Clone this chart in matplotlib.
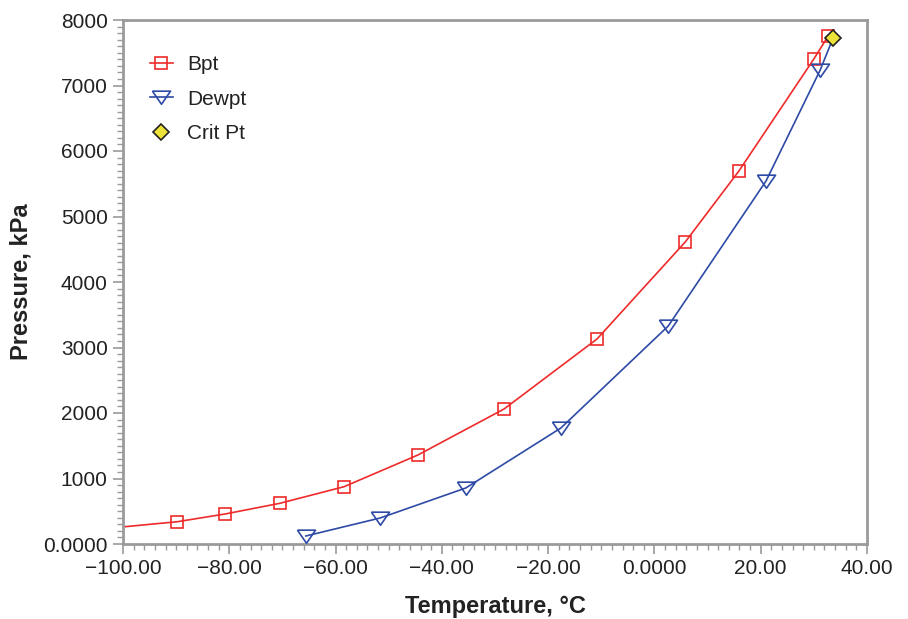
import matplotlib
matplotlib.use("Agg")
import matplotlib.pyplot as plt
from matplotlib.ticker import MultipleLocator, FixedLocator, FixedFormatter

plt.rcParams['font.family'] = ['Liberation Sans', 'DejaVu Sans']

# Bubble point curve (line extends beyond left axis limit)
bpt_line_T = [-106.0, -89.8, -80.8, -70.5, -58.4, -44.5, -28.3, -10.8, 5.8, 15.9, 30.0, 32.7]
bpt_line_P = [215, 340, 458, 621, 875, 1359, 2061, 3130, 4611, 5695, 7405, 7756]
bpt_T = [-89.8, -80.8, -70.5, -58.4, -44.5, -28.3, -10.8, 5.8, 15.9, 30.0, 32.7]
bpt_P = [340, 458, 621, 875, 1359, 2061, 3130, 4611, 5695, 7405, 7756]

dew_T = [-65.6, -51.6, -35.5, -17.6, 2.6, 21.0, 31.2]
dew_P = [122, 397, 855, 1771, 3328, 5542, 7237]

crit_T = [33.6]
crit_P = [7722]

xticks = [-100, -80, -60, -40, -20, 0, 20, 40]
xlabels = ["\u2212100.00", "\u221280.00", "\u221260.00", "\u221240.00", "\u221220.00", "0.0000", "20.00", "40.00"]
yticks = [0, 1000, 2000, 3000, 4000, 5000, 6000, 7000, 8000]
ylabels = ["0.0000", "1000", "2000", "3000", "4000", "5000", "6000", "7000", "8000"]

red = "#ee2a2a"
blue = "#2d4aa6"
tri = [(-1.0, 0.7), (1.0, 0.7), (0.0, -0.75), (-1.0, 0.7)]

fig = plt.figure(figsize=(9.08, 6.19), dpi=100)
ax = fig.add_axes([123/908, 1-544/619, (867-123)/908, (544-20)/619])

ax.plot(bpt_line_T, bpt_line_P, color=red, lw=1.2, zorder=2)
ax.plot(bpt_T, bpt_P, ls='none', marker='s', ms=8.5, mfc='none', mec=red, mew=1.2, zorder=3)
ax.plot(dew_T + crit_T, dew_P + crit_P, color=blue, lw=1.2, zorder=2)
ax.plot(dew_T, dew_P, ls='none', marker=tri, ms=13, mfc='none', mec=blue, mew=1.2, zorder=3)
ax.plot(crit_T, crit_P, ls='none', marker='D', ms=8, mfc='#ece33a', mec='#222222', mew=1.2, zorder=4)

# legend proxies
h1, = ax.plot([], [], color=red, lw=1.2, marker='s', ms=8.5, mfc='none', mec=red, mew=1.2)
h2, = ax.plot([], [], color=blue, lw=1.2, marker=tri, ms=13, mfc='none', mec=blue, mew=1.2)
h3, = ax.plot([], [], ls='none', marker='D', ms=8, mfc='#ece33a', mec='#222222', mew=1.2)
leg = ax.legend([h1, h2, h3], ["Bpt", "Dewpt", "Crit Pt"], loc='upper left',
                bbox_to_anchor=(0.011, 0.969), frameon=False, fontsize=15,
                handlelength=1.1, handletextpad=0.7, labelspacing=0.75)
for t in leg.get_texts():
    t.set_color('#222222')

ax.set_xlim(-100, 40)
ax.set_ylim(0, 8000)
ax.xaxis.set_major_locator(FixedLocator(xticks))
ax.xaxis.set_major_formatter(FixedFormatter(xlabels))
ax.yaxis.set_major_locator(FixedLocator(yticks))
ax.yaxis.set_major_formatter(FixedFormatter(ylabels))
ax.xaxis.set_minor_locator(MultipleLocator(2))
ax.yaxis.set_minor_locator(MultipleLocator(100))

gray = "#9a9a9a"
for s in ax.spines.values():
    s.set_color(gray)
    s.set_linewidth(2)
ax.tick_params(which='major', direction='out', length=7, width=1.2, color=gray,
               labelsize=15, labelcolor='#222222', pad=4)
ax.tick_params(which='minor', direction='out', length=4, width=1.0, color=gray)

ax.set_xlabel("Temperature, \u00b0C", fontsize=17, fontweight='bold', color='#222222', labelpad=12)
ax.set_ylabel("Pressure, kPa", fontsize=17, fontweight='bold', color='#222222', labelpad=8)

fig.savefig("out.png", dpi=100)
